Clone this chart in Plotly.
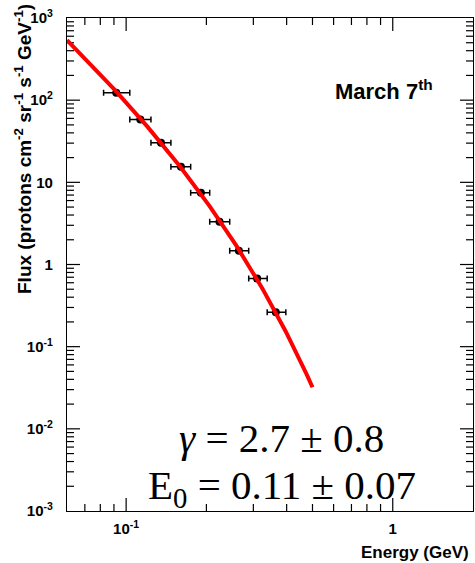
import numpy as np
import plotly.graph_objects as go

# Measured proton flux, March 7th event
energy = [0.0918, 0.1130, 0.1351, 0.1605, 0.1907, 0.2240, 0.2648, 0.3101, 0.3643]   # GeV
energy_lo = [0.0823, 0.1032, 0.1239, 0.1472, 0.1746, 0.2058, 0.2446, 0.2882, 0.3381]  # bin low edge
energy_hi = [0.1032, 0.1239, 0.1472, 0.1746, 0.2058, 0.2446, 0.2882, 0.3381, 0.3972]  # bin high edge
flux = [122.9, 58.2, 30.3, 15.5, 7.46, 3.31, 1.47, 0.676, 0.263]  # protons cm^-2 sr^-1 s^-1 GeV^-1

# Fitted spectrum: F = A * E^-gamma * exp(-E/E0)
GAMMA = 2.7
E0 = 0.11
NORM = 0.465
FIT_EMIN, FIT_EMAX = 0.06, 0.5

# Axis tick labels
x_tickvals = [0.1, 1]
x_ticktext = ["<b>10<sup>-1</sup></b>", "<b>1</b>"]
y_tickvals = [1e-3, 1e-2, 1e-1, 1, 10, 100, 1000]
y_ticktext = ["<b>10<sup>-3</sup></b>", "<b>10<sup>-2</sup></b>", "<b>10<sup>-1</sup></b>",
              "<b>1</b>", "<b>10</b>", "<b>10<sup>2</sup></b>", "<b>10<sup>3</sup></b>"]

x_minor = [m * 10.0 ** k for k in (-2, -1, 0) for m in range(2, 10)]
y_minor = [m * 10.0 ** k for k in range(-3, 3) for m in range(2, 10)]

err_minus = [c - lo for c, lo in zip(energy, energy_lo)]
err_plus = [hi - c for c, hi in zip(energy, energy_hi)]

e_fit = np.logspace(np.log10(FIT_EMIN), np.log10(FIT_EMAX), 200)
f_fit = NORM * e_fit ** (-GAMMA) * np.exp(-e_fit / E0)

SANS = "Liberation Sans, Arial, sans-serif"
SERIF = "Liberation Serif, Times New Roman, serif"
X_LIM = (0.06, 2.0)
Y_LIM = (1e-3, 1e3)
MAJOR_LEN, MINOR_LEN = 13, 7

W, H = 475, 563
MARGIN = dict(l=67, r=2, t=18, b=52)
PLOT_W = W - MARGIN["l"] - MARGIN["r"]
PLOT_H = H - MARGIN["t"] - MARGIN["b"]
LX = np.log10(X_LIM)
LY = np.log10(Y_LIM)
PX_PER_DEC_X = PLOT_W / (LX[1] - LX[0])
PX_PER_DEC_Y = PLOT_H / (LY[1] - LY[0])


def frame_ticks():
    """Inward ROOT-style tick marks on all four sides of the frame."""
    xs, ys = [], []
    for vals, length in ((x_tickvals, MAJOR_LEN), (x_minor, MINOR_LEN)):
        d = length / PX_PER_DEC_Y
        for v in vals:
            if X_LIM[0] < v < X_LIM[1]:
                xs += [v, v, None, v, v, None]
                ys += [Y_LIM[0], 10 ** (LY[0] + d), None, Y_LIM[1], 10 ** (LY[1] - d), None]
    for vals, length in ((y_tickvals, MAJOR_LEN), (y_minor, MINOR_LEN)):
        d = length / PX_PER_DEC_X
        for v in vals:
            if Y_LIM[0] < v < Y_LIM[1]:
                xs += [X_LIM[0], 10 ** (LX[0] + d), None, X_LIM[1], 10 ** (LX[1] - d), None]
                ys += [v, v, None, v, v, None]
    return xs, ys


tick_x, tick_y = frame_ticks()

fig = go.Figure()
fig.add_trace(go.Scatter(
    x=tick_x, y=tick_y, mode="lines", line=dict(color="black", width=1.2),
    showlegend=False, hoverinfo="skip", connectgaps=False,
))
fig.add_trace(go.Scatter(
    x=energy, y=flux, mode="markers",
    marker=dict(color="black", size=8),
    error_x=dict(type="data", symmetric=False, array=err_plus, arrayminus=err_minus,
                 color="black", thickness=1.5, width=3),
    showlegend=False, hoverinfo="skip",
))
fig.add_trace(go.Scatter(
    x=e_fit, y=f_fit, mode="lines",
    line=dict(color="#ff0000", width=4),
    showlegend=False,
))

axis_common = dict(
    showgrid=False, zeroline=False, showline=True, linecolor="black", linewidth=1.2,
    mirror=True, ticks="", tickfont=dict(family=SANS, size=15, color="black"),
)

fig.update_layout(
    width=W, height=H,
    margin=MARGIN,
    paper_bgcolor="white", plot_bgcolor="white",
    font=dict(family=SANS, color="black"),
    xaxis=dict(type="log", range=list(LX), tickmode="array",
               tickvals=x_tickvals, ticktext=x_ticktext,
               ticklabelstandoff=4, **axis_common),
    yaxis=dict(type="log", range=list(LY), tickmode="array",
               tickvals=y_tickvals, ticktext=y_ticktext,
               ticklabelstandoff=10, **axis_common),
    annotations=[
        dict(text="<b>March 7<sup>th</sup></b>", xref="paper", yref="paper",
             x=0.781, y=0.853, xanchor="center", yanchor="middle", showarrow=False,
             font=dict(family=SANS, size=22, color="black")),
        dict(text="<i>γ</i> = 2.7 ± 0.8", xref="paper", yref="paper",
             x=0.528, y=0.149, xanchor="center", yanchor="middle",
             showarrow=False, font=dict(family=SERIF, size=41, color="black")),
        dict(text="E<sub>0</sub> = 0.11 ± 0.07", xref="paper", yref="paper",
             x=0.530, y=0.040, xanchor="center", yanchor="middle", yshift=3,
             showarrow=False, font=dict(family=SERIF, size=41, color="black")),
        dict(text="<b>Energy (GeV)</b>", xref="paper", yref="paper",
             x=1, y=0, xanchor="right", yanchor="top", yshift=-30, xshift=-2,
             showarrow=False, font=dict(family=SANS, size=17, color="black")),
        dict(text="<b>Flux (protons cm<sup>-2</sup> sr<sup>-1</sup> s<sup>-1</sup> GeV<sup>-1</sup>)</b>",
             xref="paper", yref="paper", x=0, y=1, xanchor="center", yanchor="top",
             xshift=-44, yshift=16, textangle=-90, showarrow=False,
             font=dict(family=SANS, size=19, color="black")),
    ],
)

fig.write_html("out.html")
